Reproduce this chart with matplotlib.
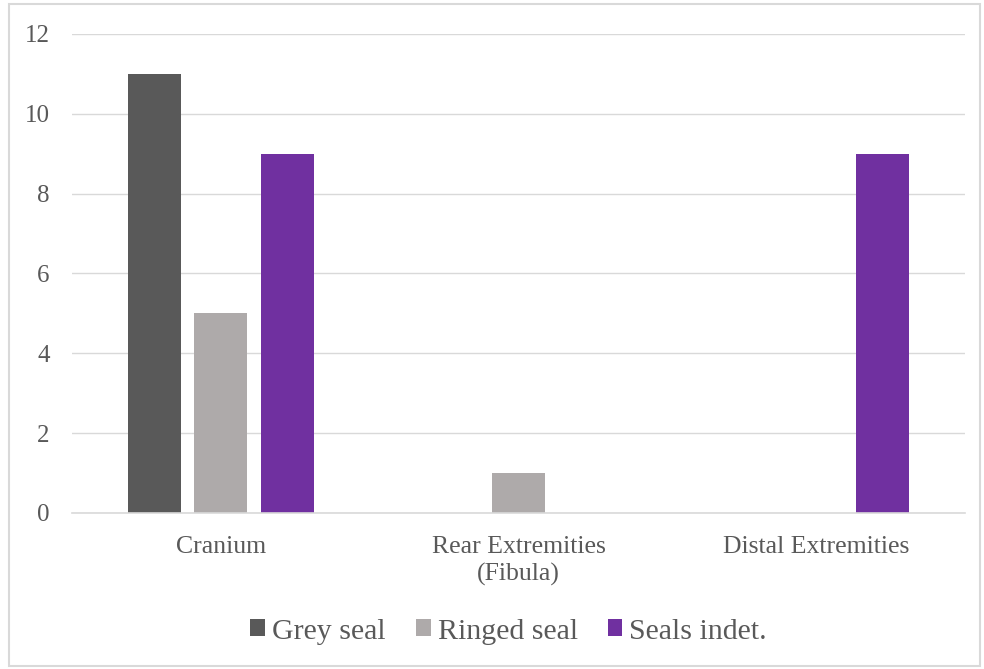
import numpy as np
import matplotlib.pyplot as plt
from matplotlib.patches import Rectangle

plt.rcParams['font.family'] = ['Liberation Serif', 'DejaVu Serif']

categories = ['Cranium', 'Rear Extremities\n(Fibula)', 'Distal Extremities']
grey_seal = [11, 0, 0]
ringed_seal = [5, 1, 0]
seals_indet = [9, 0, 9]
series = [('Grey seal', grey_seal, '#595959'),
          ('Ringed seal', ringed_seal, '#aeaaaa'),
          ('Seals indet.', seals_indet, '#7030a0')]

TEXT = '#595959'
GRID = '#d9d9d9'

fig = plt.figure(figsize=(9.84, 6.69), dpi=100)
ax = fig.add_axes([0.0732, 0.2332, 0.9075, 0.716])

x = np.arange(len(categories))
width = 0.178
step = 0.224
for i, (name, vals, color) in enumerate(series):
    ax.bar(x + (i - 1) * step, vals, width, color=color, label=name, zorder=3)

ax.set_xlim(-0.5, 2.5)
ax.set_ylim(0, 12)
ax.set_yticks(range(0, 13, 2))
ax.set_xticks(x)
ax.set_xticklabels(categories, fontsize=18.5, color=TEXT, linespacing=1.3)
ax.tick_params(axis='y', labelsize=18, labelcolor=TEXT, length=0, pad=16)
ax.tick_params(axis='x', length=0, pad=16.5)
ax.yaxis.grid(True, color=GRID, linewidth=1, zorder=0)
for s in ['top', 'right', 'left']:
    ax.spines[s].set_visible(False)
ax.spines['bottom'].set_color(GRID)
ax.spines['bottom'].set_linewidth(1.2)
ax.spines['bottom'].set_zorder(4)

leg = fig.legend(loc='center', bbox_to_anchor=(0.517, 0.056), ncol=3,
                 frameon=False, fontsize=21.5, handlelength=0.5, handleheight=0.5,
                 handletextpad=0.23, columnspacing=1.0)
for t in leg.get_texts():
    t.set_color(TEXT)

# thin frame around the whole figure
fig.patches.append(Rectangle((0.009, 0.004), 0.987, 0.99, transform=fig.transFigure,
                             fill=False, edgecolor=GRID, linewidth=1.5))

fig.savefig('out.png', dpi=100)
